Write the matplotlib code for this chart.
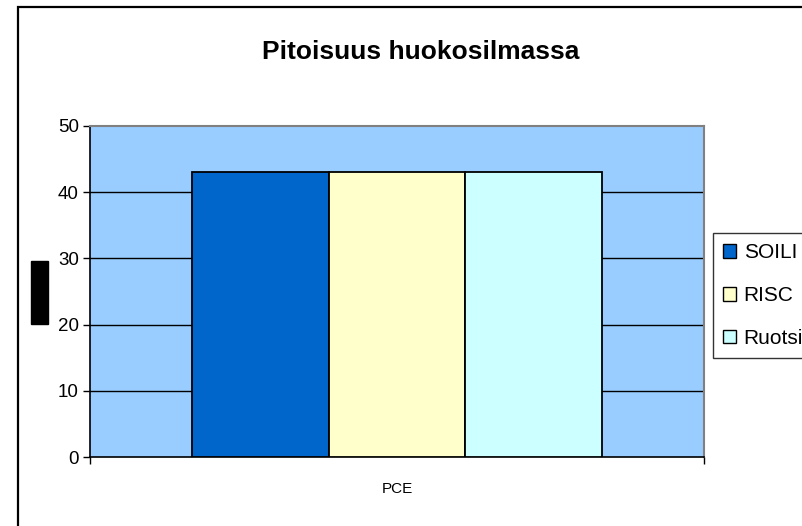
import numpy as np
import matplotlib.pyplot as plt
from matplotlib.patches import Rectangle, Patch

plt.rcParams['font.family'] = ['Liberation Sans', 'DejaVu Sans']

# ----------------------------------------------------------------------------
# Data
# ----------------------------------------------------------------------------
categories = ['PCE']
series = ['SOILI', 'RISC', 'Ruotsi']
values = [43, 43, 43]
colors = ['#0066CC', '#FFFFCC', '#CCFFFF']
title = 'Pitoisuus huokosilmassa'
y_ticks = [0, 10, 20, 30, 40, 50]

W, H = 803, 526
fig = plt.figure(figsize=(W / 100, H / 100), dpi=100)

# outer chart border (only left/top visible in the original)
fig.patches.append(Rectangle((18 / W, -0.1), 1.2, 1.1 - 7 / H,
                             transform=fig.transFigure, fill=False,
                             edgecolor='black', linewidth=1.6))

ax = fig.add_axes([90 / W, (H - 457) / H, (704 - 90) / W, (457 - 126) / H])
ax.set_facecolor('#99CCFF')

n = len(series)
bw = (1 / 1.5) / n
x = np.arange(len(categories))
for i, (s, v, c) in enumerate(zip(series, values, colors)):
    ax.bar(x - bw * (n - 1) / 2 + i * bw, [v], width=bw, color=c,
           edgecolor='black', linewidth=1.3, label=s, zorder=3)

ax.set_xlim(-0.5, 0.5)
ax.set_ylim(0, 50)
ax.set_yticks(y_ticks)
ax.tick_params(axis='y', labelsize=13.5, length=5, width=1, direction='out', pad=3)
for yv in y_ticks[1:-1]:
    ax.axhline(yv, color='black', linewidth=1, zorder=1)

ax.set_xticks(x)
ax.set_xticklabels(categories, fontsize=11)
ax.tick_params(axis='x', length=0, pad=18)
ax.set_xticks([-0.5, 0.5], minor=True)
ax.tick_params(axis='x', which='minor', length=5, width=1)

for side in ['top', 'right']:
    ax.spines[side].set_color('#808080')
    ax.spines[side].set_linewidth(1.5)
for side in ['left', 'bottom']:
    ax.spines[side].set_color('black')
    ax.spines[side].set_linewidth(1.2)

fig.text(421 / W, 1 - 52 / H, title, ha='center', va='center',
         fontsize=19, fontweight='bold')

# redacted axis title block
fig.patches.append(Rectangle((31 / W, 1 - 324 / H), 17 / W, 63 / H,
                             transform=fig.transFigure, color='black'))

handles = [Patch(facecolor=c, edgecolor='black', linewidth=1) for c in colors]
leg = fig.legend(handles, series, loc='upper left',
                 bbox_to_anchor=(713 / W, 1 - 233 / H), fontsize=15,
                 handlelength=0.62, handleheight=0.62, handletextpad=0.35,
                 labelspacing=1.14, borderpad=0.5, borderaxespad=0,
                 frameon=True, fancybox=False)
leg.get_frame().set_edgecolor('black')
leg.get_frame().set_linewidth(1)

fig.savefig('out.png', dpi=100)
